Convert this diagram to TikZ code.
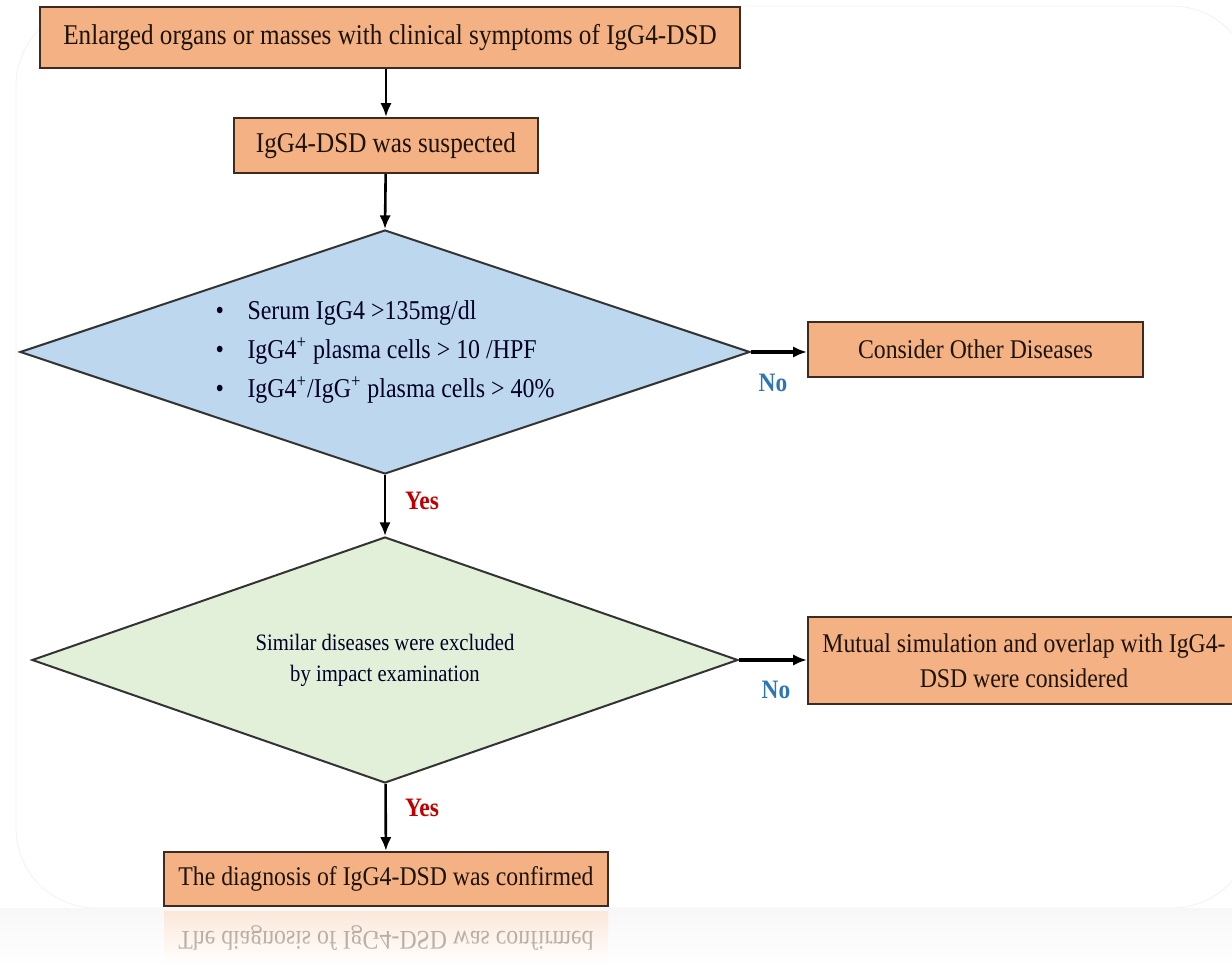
\documentclass[tikz,border=0pt]{standalone}
\usepackage{fontspec}
\setmainfont{Liberation Serif}[FakeStretch=0.88]
\usetikzlibrary{arrows.meta,shapes.geometric}
\definecolor{boxorange}{HTML}{F4B183}
\definecolor{boxline}{HTML}{3E2A1E}
\definecolor{qblue}{HTML}{BDD7EE}
\definecolor{qgreen}{HTML}{E2EFD9}
\definecolor{nocol}{HTML}{2E75B6}
\definecolor{yescol}{HTML}{C00000}

\begin{document}
\begin{tikzpicture}[x=0.5pt, y=-0.5pt, >={Latex[length=2.4mm, width=2mm]},
	stepbox/.style={draw=boxline, line width=1.2pt, fill=boxorange, text=black!85!brown, inner sep=0pt, align=center, font=\fontsize{13.5}{17.5}\selectfont},
	query/.style={diamond, aspect=3, draw=black!80, line width=1pt, inner sep=0pt, text=black!85!blue},
	flow/.style={->, line width=1.3pt},
	yeslabel/.style={text=yescol, font=\bfseries\fontsize{13.3}{14}\selectfont},
	nolabel/.style={text=nocol, font=\bfseries\fontsize{13.3}{14}\selectfont}]
	\useasboundingbox (0,0) rectangle (1232,967);
	\clip (0,0) rectangle (1232,967);
	% faint frame and reflection band
	\draw[black!5, rounded corners=40pt] (16,6) rectangle (1252,908);
	\shade[top color=black!3, bottom color=white] (0,908) rectangle (1232,967);

	% boxes and decisions
	\node (start) [stepbox, minimum width=350pt, minimum height=30.5pt, font=\fontsize{14.3}{16}\selectfont] at (390,37.5) {Enlarged organs or masses with clinical symptoms of IgG4-DSD};
	\node (suspect) [stepbox, minimum width=152pt, minimum height=27.5pt, font=\fontsize{14.3}{16}\selectfont] at (386,145.5) {IgG4-DSD was suspected};
	\node (serum) [query, fill=qblue, minimum width=365pt, minimum height=122pt, align=left, font=\fontsize{13.6}{19.5}\selectfont] at (385,352)
		{\makebox[16pt][l]{\textbullet}Serum IgG4 >135mg/dl\\
		 \makebox[16pt][l]{\textbullet}IgG4\textsuperscript{+} plasma cells > 10 /HPF\\
		 \makebox[16pt][l]{\textbullet}IgG4\textsuperscript{+}/IgG\textsuperscript{+} plasma cells > 40\%};
	\node (other) [stepbox, minimum width=167.5pt, minimum height=27.5pt] at (975.5,349.5) {Consider Other Diseases};
	\node (similar) [query, fill=qgreen, minimum width=353pt, minimum height=123pt, align=center, font=\fontsize{11.75}{15.5}\selectfont] at (385,660)
		{Similar diseases were excluded\\by impact examination};
	\node (overlap) [stepbox, minimum width=216pt, minimum height=43.5pt] at (1024,660.5) {Mutual simulation and overlap with IgG4-\\DSD were considered};
	\node (confirm) [stepbox, minimum width=222pt, minimum height=27pt] at (386,879) {The diagnosis of IgG4-DSD was confirmed};
	\node (mirror) [stepbox, draw=none, top color=boxorange!30, bottom color=white, text opacity=0.3, yscale=-1, minimum width=222pt, minimum height=27pt] at (386,938) {The diagnosis of IgG4-DSD was confirmed};

	% connectors
	\draw[flow] (suspect.north |- start.south) -- (suspect.north);
	\draw[flow] (suspect) -- (serum.north);
	\draw[flow, line width=1.8pt] (serum.east) -- (other.west |- serum.east);
	\draw[flow] (serum.south) -- (similar.north);
	\draw[flow, line width=1.8pt] (similar.east) -- (overlap.west |- similar.east);
	\draw[flow] (similar) -- (confirm);

	% branch labels
	\node (no1) [nolabel] at (773,383) {No};
	\node (yes1) [yeslabel] at (422,501) {Yes};
	\node (no2) [nolabel] at (776,690) {No};
	\node (yes2) [yeslabel] at (422,808) {Yes};
\end{tikzpicture}
\end{document}
